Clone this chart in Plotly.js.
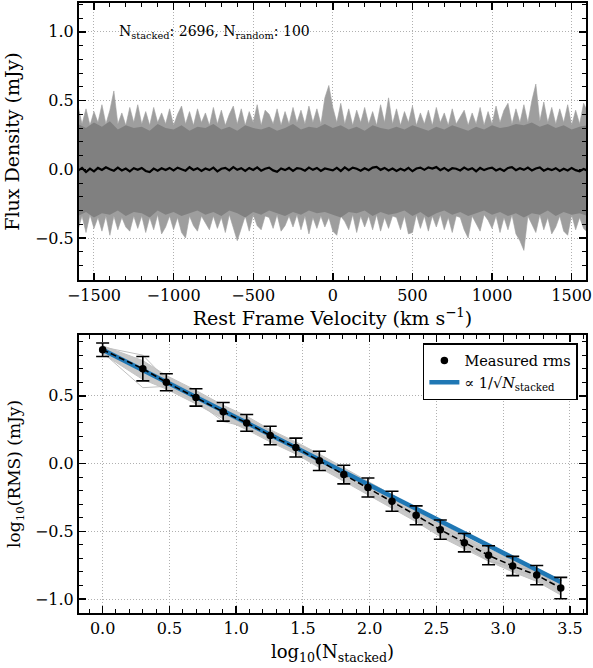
<!DOCTYPE html>
<html>
<head>
<meta charset="utf-8">
<script src="https://cdn.plot.ly/plotly-3.0.1.min.js"></script>
<style>html,body{margin:0;padding:0;background:#fff;} #chart{width:593px;height:668px;}</style>
</head>
<body>
<div id="chart"></div>
<script>
// ---------- top panel: stacked spectra ----------
const velocity = [-1600,-1575,-1550,-1525,-1500,-1475,-1450,-1425,-1400,-1375,-1350,-1325,-1300,-1275,-1250,-1225,
-1200,-1175,-1150,-1125,-1100,-1075,-1050,-1025,-1000,-975,-950,-925,-900,-875,-850,-825,
-800,-775,-750,-725,-700,-675,-650,-625,-600,-575,-550,-525,-500,-475,-450,-425,
-400,-375,-350,-325,-300,-275,-250,-225,-200,-175,-150,-125,-100,-75,-50,-25,
0,25,50,75,100,125,150,175,200,225,250,275,300,325,350,375,
400,425,450,475,500,525,550,575,600,625,650,675,700,725,750,775,
800,825,850,875,900,925,950,975,1000,1025,1050,1075,1100,1125,1150,1175,
1200,1225,1250,1275,1300,1325,1350,1375,1400,1425,1450,1475,1500,1525,1550,1575,1600];

const spreadUpper = [0.46,0.33,0.44,0.32,0.42,0.34,0.47,0.33, 0.43,0.57,0.33,0.41,0.32,0.45,0.34,0.47,
0.33,0.42,0.32,0.45,0.34,0.41,0.33,0.44, 0.32,0.40,0.46,0.33,0.42,0.32,0.44,0.34,
0.41,0.32,0.45,0.33,0.43,0.32,0.40,0.46, 0.33,0.44,0.32,0.42,0.34,0.47,0.32,0.43,
0.40,0.33,0.44,0.32,0.42,0.33,0.45,0.34, 0.43,0.33,0.46,0.34,0.44,0.33,0.52,0.61,
0.45,0.34,0.48,0.33,0.44,0.32,0.43,0.34, 0.45,0.33,0.42,0.32,0.47,0.34,0.52,0.33,
0.44,0.32,0.42,0.34,0.46,0.32,0.41,0.33, 0.43,0.32,0.45,0.34,0.41,0.32,0.44,0.33,
0.38,0.43,0.32,0.41,0.33,0.45,0.32,0.42, 0.33,0.46,0.34,0.43,0.48,0.33,0.44,0.34,
0.47,0.34,0.50,0.62,0.35,0.49,0.34,0.45, 0.33,0.44,0.34,0.47,0.32,0.43,0.33,0.48, 0.42];

const spreadLower = [-0.44,-0.34,-0.46,-0.33,-0.43,-0.35,-0.45,-0.34, -0.48,-0.34,-0.44,-0.35,-0.42,-0.45,-0.34,-0.43,
-0.34,-0.46,-0.35,-0.44,-0.33,-0.47,-0.42,-0.34, -0.44,-0.35,-0.46,-0.50,-0.34,-0.41,-0.45,-0.34,
-0.39,-0.44,-0.34,-0.43,-0.35,-0.46,-0.33,-0.42, -0.52,-0.43,-0.34,-0.45,-0.33,-0.41,-0.44,-0.34,
-0.35,-0.43,-0.33,-0.45,-0.41,-0.34,-0.42,-0.33, -0.44,-0.34,-0.47,-0.35,-0.43,-0.34,-0.42,-0.35,
-0.45,-0.48,-0.34,-0.38,-0.44,-0.33,-0.46,-0.34, -0.42,-0.34,-0.44,-0.33,-0.45,-0.35,-0.43,-0.34,
-0.35,-0.44,-0.34,-0.47,-0.46,-0.33,-0.43,-0.34, -0.45,-0.34,-0.42,-0.33,-0.44,-0.35,-0.46,-0.34,
-0.35,-0.44,-0.50,-0.34,-0.39,-0.45,-0.33,-0.37, -0.43,-0.34,-0.46,-0.35,-0.44,-0.33,-0.47,-0.52,
-0.59,-0.34,-0.40,-0.46,-0.33,-0.44,-0.35,-0.47, -0.42,-0.34,-0.45,-0.48,-0.33,-0.44,-0.35,-0.43, -0.46];

const velocityCore = [-1600,-1550,-1500,-1450,-1400,-1350,-1300,-1250,-1200,-1150,-1100,-1050,-1000,-950,-900,-850,
-800,-750,-700,-650,-600,-550,-500,-450,-400,-350,-300,-250,-200,-150,-100,-50,
0,50,100,150,200,250,300,350,400,450,500,550,600,650,700,750,
800,850,900,950,1000,1050,1100,1150,1200,1250,1300,1350,1400,1450,1500,1550,1600];

const coreUpper = [0.33,0.30,0.34,0.31,0.35,0.29,0.32,0.30, 0.31,0.28,0.33,0.30,0.29,0.32,0.28,0.31,
0.30,0.33,0.29,0.31,0.28,0.32,0.30,0.29, 0.31,0.28,0.30,0.33,0.29,0.31,0.30,0.33,
0.30,0.32,0.29,0.31,0.28,0.32,0.30,0.29, 0.31,0.29,0.32,0.30,0.28,0.31,0.29,0.32,
0.30,0.28,0.31,0.29,0.32,0.30,0.31,0.33, 0.32,0.34,0.31,0.33,0.30,0.32,0.29,0.31, 0.32];

const coreLower = [-0.34,-0.31,-0.35,-0.32,-0.33,-0.30,-0.34,-0.31, -0.32,-0.35,-0.30,-0.33,-0.31,-0.34,-0.32,-0.30,
-0.33,-0.31,-0.34,-0.30,-0.32,-0.35,-0.31,-0.33, -0.30,-0.32,-0.34,-0.31,-0.33,-0.30,-0.32,-0.31,
-0.33,-0.35,-0.31,-0.32,-0.30,-0.34,-0.31,-0.33, -0.32,-0.30,-0.34,-0.31,-0.35,-0.32,-0.30,-0.33,
-0.31,-0.34,-0.32,-0.30,-0.33,-0.31,-0.34,-0.32, -0.35,-0.32,-0.33,-0.30,-0.34,-0.31,-0.33,-0.32, -0.34];

const meanSpectrum = [-0.01,0.01,-0.02,0.005,-0.015,0.01,-0.005,0.015, 0.0,-0.01,0.012,-0.008,0.005,-0.015,0.008,-0.004,
0.01,-0.012,-0.02,0.005,-0.01,0.008,-0.005,0.01, -0.008,0.012,0.0,-0.01,0.015,-0.005,0.008,-0.012,
0.006,-0.006,0.012,-0.015,0.004,0.01,-0.008,0.016, -0.004,0.008,-0.012,0.01,-0.005,0.014,-0.01,0.004,
0.012,-0.008,-0.018,0.006,-0.006,0.01,-0.012,0.008, 0.004,-0.01,0.012,-0.004,0.01,-0.012,0.006,0.0,
-0.008,0.01,-0.012,0.014,-0.006,0.012,0.004,-0.01, 0.008,-0.006,0.012,0.018,-0.004,0.01,-0.008,0.006,
-0.012,0.004,-0.008,0.01,-0.014,0.006,0.012,-0.004, 0.014,0.006,0.016,-0.006,0.01,-0.01,0.008,0.004,
-0.008,0.012,-0.004,0.008,-0.014,0.01,-0.006,0.006, 0.012,-0.008,0.004,-0.012,0.01,0.016,-0.006,0.008,
-0.004,0.012,-0.008,0.006,0.014,-0.01,0.004,-0.006, 0.008,-0.012,0.004,-0.008,0.01,-0.006,-0.014,0.002, -0.01];

// ---------- bottom panel: rms vs number stacked ----------
const logN = [0.0,0.301,0.477,0.699,0.903,1.079,1.255,1.447,1.623,1.806,1.987,2.167,2.348,2.529,2.709,2.890,3.071,3.251,3.431];
const logRms = [0.84,0.70,0.60,0.488,0.382,0.30,0.207,0.118,0.02,-0.081,-0.177,-0.278,-0.382,-0.488,-0.584,-0.677,-0.756,-0.823,-0.919];
const logRmsErr = [0.05,0.09,0.063,0.064,0.069,0.062,0.068,0.07,0.071,0.069,0.07,0.074,0.07,0.071,0.068,0.07,0.071,0.071,0.079];
const bandUpper = [0.87,0.76,0.65,0.54,0.43,0.35,0.25,0.16,0.07,-0.03,-0.13,-0.23,-0.33,-0.44,-0.54,-0.63,-0.71,-0.77,-0.86];
const bandLower = [0.81,0.62,0.55,0.44,0.33,0.25,0.16,0.07,-0.03,-0.13,-0.23,-0.33,-0.43,-0.54,-0.63,-0.72,-0.80,-0.87,-0.97];
const realisationA = [0.86,0.80,0.62,0.52,0.40,0.33,0.24,0.15,0.06,-0.05,-0.16,-0.25,-0.35,-0.46,-0.56,-0.66,-0.73,-0.80,-0.88];
const realisationB = [0.82,0.56,0.57,0.46,0.31,0.27,0.17,0.09,-0.01,-0.10,-0.21,-0.30,-0.40,-0.50,-0.60,-0.70,-0.78,-0.84,-0.94];
const realisationC = [0.84,0.70,0.60,0.50,0.37,0.28,0.22,0.13,0.03,-0.09,-0.16,-0.27,-0.38,-0.49,-0.60,-0.72,-0.76,-0.79,-0.92];
const fitLogN = [0.0, 3.431];
const fitLogRms = [0.84, -0.875];

const F = 'DejaVu Serif, serif';

const traces = [
  {x: velocity, y: spreadUpper, xaxis:'x', yaxis:'y', mode:'lines', line:{width:0.6, color:'#a0a0a0'}, showlegend:false, hoverinfo:'skip'},
  {x: velocity, y: spreadLower, xaxis:'x', yaxis:'y', mode:'lines', line:{width:0.6, color:'#a0a0a0'}, fill:'tonexty', fillcolor:'#9e9e9e', showlegend:false, hoverinfo:'skip'},
  {x: velocityCore, y: coreUpper, xaxis:'x', yaxis:'y', mode:'lines', line:{width:0, color:'#808080'}, showlegend:false, hoverinfo:'skip'},
  {x: velocityCore, y: coreLower, xaxis:'x', yaxis:'y', mode:'lines', line:{width:0, color:'#808080'}, fill:'tonexty', fillcolor:'#808080', showlegend:false, hoverinfo:'skip'},
  {x: velocity, y: meanSpectrum, xaxis:'x', yaxis:'y', mode:'lines', line:{width:2.2, color:'#000'}, showlegend:false},

  {x: logN, y: bandUpper, xaxis:'x2', yaxis:'y2', mode:'lines', line:{width:1, color:'#c4c4c4'}, showlegend:false, hoverinfo:'skip'},
  {x: logN, y: bandLower, xaxis:'x2', yaxis:'y2', mode:'lines', line:{width:1, color:'#c4c4c4'}, fill:'tonexty', fillcolor:'#c8c8c8', showlegend:false, hoverinfo:'skip'},
  {x: logN, y: realisationA, xaxis:'x2', yaxis:'y2', mode:'lines', line:{width:1, color:'#c0c0c0'}, showlegend:false},
  {x: logN, y: realisationB, xaxis:'x2', yaxis:'y2', mode:'lines', line:{width:1, color:'#c0c0c0'}, showlegend:false},
  {x: logN, y: realisationC, xaxis:'x2', yaxis:'y2', mode:'lines', line:{width:1, color:'#b8b8b8'}, showlegend:false},
  {x: fitLogN, y: fitLogRms, xaxis:'x2', yaxis:'y2', mode:'lines', line:{width:4.5, color:'#1f77b4'},
   name:'\u221D 1/\u221A<i>N</i><sub>stacked</sub>', legendrank:2},
  {x: logN, y: logRms, xaxis:'x2', yaxis:'y2', mode:'lines', line:{width:1.6, color:'#000', dash:'6px,3px'}, showlegend:false},
  {x: logN, y: logRms, xaxis:'x2', yaxis:'y2', mode:'markers', marker:{size:7.5, color:'#000'},
   error_y:{type:'data', array:logRmsErr, visible:true, color:'#000', thickness:1.6, width:6.5},
   name:'Measured rms', legendrank:1}
];

function ax(extra){
  return Object.assign({
    showline:true, linewidth:2, linecolor:'#000', mirror:'ticks',
    ticks:'inside', ticklen:7, tickwidth:1.4, tickcolor:'#000',
    showgrid:true, gridcolor:'#b0b0b0', griddash:'1px,2px', gridwidth:1,
    zeroline:false, automargin:false,
    tickfont:{family:F, size:16, color:'#000'}
  }, extra);
}
function minorTicks(step){
  return {ticks:'inside', ticklen:4, tickwidth:1, tickcolor:'#000', dtick:step, tick0:0, showgrid:false};
}

const layout = {
  width:593, height:668,
  margin:{l:79, r:7, t:3, b:55},
  paper_bgcolor:'#fff', plot_bgcolor:'#fff',
  font:{family:F, color:'#000'},
  showlegend:true,
  xaxis: ax({domain:[0,1], anchor:'y', range:[-1594,1590], dtick:500, tick0:0, minor:minorTicks(100),
    title:{text:'Rest Frame Velocity (km s<sup>\u22121</sup>)', font:{family:F, size:19}, standoff:8}}),
  yaxis: ax({domain:[0.546,1], anchor:'x', range:[-0.805,1.21], dtick:0.5, tick0:0, tickformat:'.1f', minor:minorTicks(0.1),
    title:{text:'Flux Density (mJy)', font:{family:F, size:19}, standoff:10}}),
  xaxis2: ax({domain:[0,1], anchor:'y2', range:[-0.177,3.62], dtick:0.5, tick0:0, tickformat:'.1f', minor:minorTicks(0.1),
    title:{text:'log<sub>10</sub>(N<sub>stacked</sub>)', font:{family:F, size:18}, standoff:8}}),
  yaxis2: ax({domain:[0,0.456], anchor:'x2', range:[-1.103,0.95], dtick:0.5, tick0:0, tickformat:'.1f', minor:minorTicks(0.1),
    title:{text:'log<sub>10</sub>(RMS) (mJy)', font:{family:F, size:17}, standoff:10}}),
  legend:{x:0.984, y:0.4426, xanchor:'right', yanchor:'top', xref:'paper', yref:'paper',
    bgcolor:'#fff', bordercolor:'#000', borderwidth:1.5,
    font:{family:F, size:14.5, color:'#000'}, traceorder:'normal'},
  annotations:[
    {xref:'x', yref:'y', x:-1355, y:1.0, xanchor:'left', yanchor:'middle', showarrow:false,
     text:'N<sub>stacked</sub>: 2696, N<sub>random</sub>: 100', font:{family:F, size:14, color:'#000'}}
  ]
};

Plotly.newPlot('chart', traces, layout, {staticPlot:true, displayModeBar:false});
</script>
</body>
</html>
